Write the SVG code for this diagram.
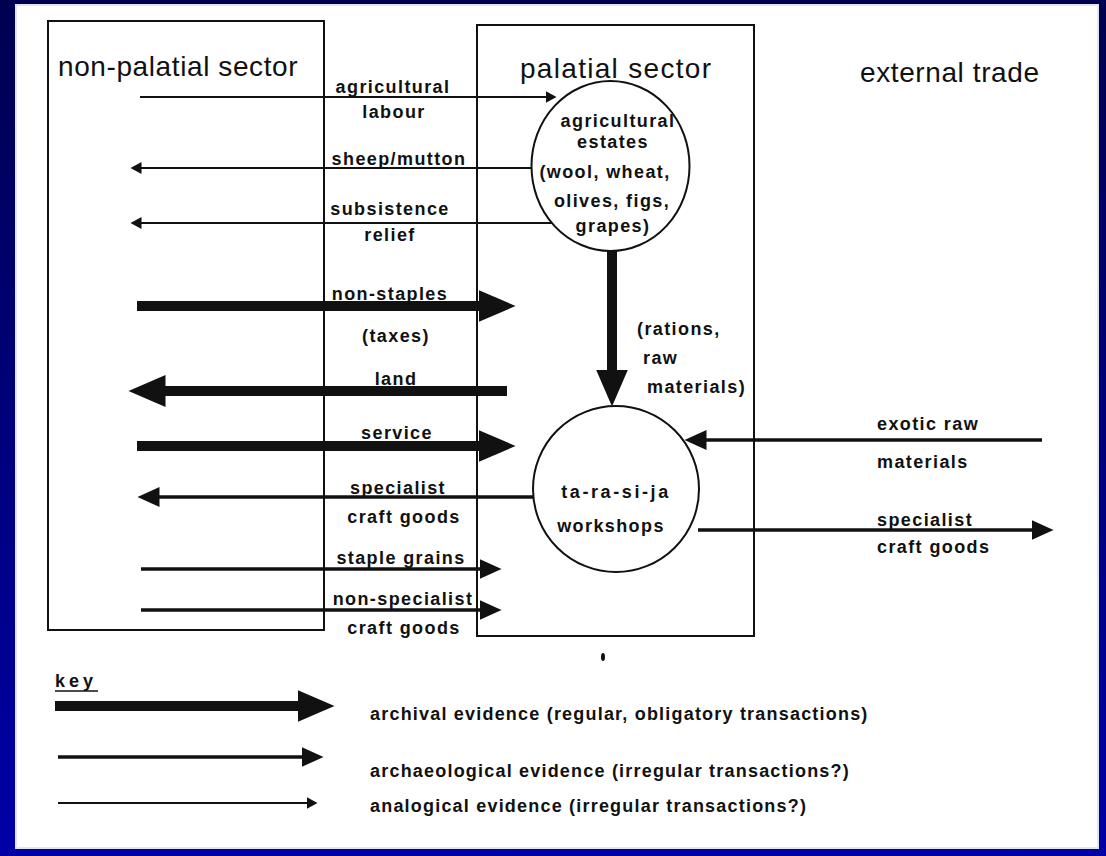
<svg xmlns="http://www.w3.org/2000/svg" width="1106" height="856" viewBox="0 0 1106 856">
<defs>
  <linearGradient id="bg" x1="0" y1="0" x2="0" y2="1">
    <stop offset="0" stop-color="#000050"/>
    <stop offset="1" stop-color="#0000a8"/>
  </linearGradient>
  <marker id="hThin" markerUnits="userSpaceOnUse" markerWidth="12" markerHeight="12" refX="0.5" refY="6" orient="auto">
    <path d="M0,0 L11,6 L0,12 Z" fill="#111"/>
  </marker>
  <marker id="hMed" markerUnits="userSpaceOnUse" markerWidth="23" markerHeight="20" refX="0.5" refY="10" orient="auto">
    <path d="M0,0 L22,10 L0,20 Z" fill="#111"/>
  </marker>
  <marker id="hThick" markerUnits="userSpaceOnUse" markerWidth="38" markerHeight="32" refX="0.5" refY="16" orient="auto">
    <path d="M0,0 L37,16 L0,32 Z" fill="#111"/>
  </marker>
  <style>
    .box { fill: none; stroke: #111; stroke-width: 2; }
    .circ { fill: #fff; stroke: #111; stroke-width: 2; }
    .title { font-family: "Liberation Sans", Arial, sans-serif; font-size: 28px; fill: #111; letter-spacing: 0.6px; }
    .lbl { font-family: "Liberation Sans", Arial, sans-serif; font-size: 18px; font-weight: bold; fill: #111; letter-spacing: 1.4px; }
    .mid { text-anchor: middle; }
    .keyt { font-family: "Liberation Sans", Arial, sans-serif; font-size: 18px; font-weight: bold; fill: #111; letter-spacing: 1.2px; }
    .thin { stroke: #111; stroke-width: 2; fill: none; marker-end: url(#hThin); }
    .med { stroke: #111; stroke-width: 3.5; fill: none; marker-end: url(#hMed); }
    .thick { stroke: #111; stroke-width: 10; fill: none; marker-end: url(#hThick); }
  </style>
</defs>

<rect x="0" y="0" width="1106" height="856" fill="url(#bg)"/>
<rect x="16" y="5" width="1082" height="843" fill="#ffffff" stroke="#e4e4ec" stroke-width="2"/>

<g id="non-palatial-sector">
  <rect class="box" x="48" y="21" width="276" height="609"/>
  <text class="title" x="58" y="76">non-palatial sector</text>
</g>

<g id="palatial-sector">
  <rect class="box" x="477" y="25" width="277" height="611"/>
  <text class="title" x="520" y="78" style="letter-spacing:1.3px">palatial sector</text>
</g>

<g id="external-trade">
  <text class="title" x="860" y="82">external  trade</text>
</g>

<g id="connectors">
  <line class="thin" x1="140" y1="97" x2="546" y2="97"/>
  <line class="thin" x1="532" y1="168" x2="141" y2="168"/>
  <line class="thin" x1="555" y1="223" x2="141" y2="223"/>
  <line class="thick" x1="137" y1="306" x2="479" y2="306"/>
  <line class="thick" x1="507" y1="391" x2="165" y2="391"/>
  <line class="thick" x1="137" y1="446" x2="479" y2="446"/>
  <line class="med" x1="533" y1="497" x2="159" y2="497"/>
  <line class="med" x1="141" y1="569" x2="480" y2="569"/>
  <line class="med" x1="141" y1="610" x2="480" y2="610"/>
  <line class="med" x1="1042" y1="440" x2="706" y2="440"/>
  <line class="med" x1="698" y1="530" x2="1032" y2="530"/>
  <line class="thick" x1="612" y1="251" x2="612" y2="370"/>
</g>

<g id="agricultural-estates">
  <ellipse class="circ" cx="610.5" cy="166" rx="79" ry="85"/>
  <text class="lbl mid" x="618" y="127">agricultural</text>
  <text class="lbl mid" x="613" y="148">estates</text>
  <text class="lbl mid" x="605" y="178">(wool,  wheat,</text>
  <text class="lbl mid" x="612" y="207">olives,  figs,</text>
  <text class="lbl mid" x="613" y="232">grapes)</text>
</g>

<g id="ta-ra-si-ja-workshops">
  <circle class="circ" cx="616" cy="489" r="83"/>
  <text class="lbl mid" x="616" y="498" style="letter-spacing:2.6px">ta-ra-si-ja</text>
  <text class="lbl mid" x="611" y="532">workshops</text>
</g>

<g id="labels">
  <text class="lbl mid" x="393" y="93">agricultural</text>
  <text class="lbl mid" x="394" y="118">labour</text>
  <text class="lbl mid" x="399" y="165">sheep/mutton</text>
  <text class="lbl mid" x="390" y="215">subsistence</text>
  <text class="lbl mid" x="390" y="241">relief</text>
  <text class="lbl mid" x="390" y="300">non-staples</text>
  <text class="lbl mid" x="396" y="342">(taxes)</text>
  <text class="lbl mid" x="396" y="385">land</text>
  <text class="lbl mid" x="397" y="439">service</text>
  <text class="lbl mid" x="398" y="494">specialist</text>
  <text class="lbl mid" x="404" y="523">craft  goods</text>
  <text class="lbl mid" x="401" y="564">staple grains</text>
  <text class="lbl mid" x="403" y="605">non-specialist</text>
  <text class="lbl mid" x="404" y="634">craft  goods</text>
  <text class="lbl" x="637" y="335">(rations,</text>
  <text class="lbl" x="643" y="364">raw</text>
  <text class="lbl" x="647" y="393">materials)</text>
  <text class="lbl" x="877" y="430">exotic  raw</text>
  <text class="lbl" x="877" y="468">materials</text>
  <text class="lbl" x="877" y="526">specialist</text>
  <text class="lbl" x="877" y="553">craft  goods</text>
</g>

<ellipse cx="603" cy="657" rx="2" ry="4" fill="#111"/>

<g id="key">
  <text class="keyt" x="55" y="687" style="letter-spacing:4px">key</text>
  <line x1="55" y1="691" x2="98" y2="691" stroke="#111" stroke-width="1.5"/>
  <line class="thick" x1="55" y1="706" x2="298" y2="706"/>
  <line class="med" x1="58" y1="757" x2="302" y2="757"/>
  <line class="thin" x1="58" y1="803" x2="307" y2="803"/>
  <text class="keyt" x="370" y="720">archival  evidence  (regular,  obligatory  transactions)</text>
  <text class="keyt" x="370" y="777">archaeological  evidence  (irregular  transactions?)</text>
  <text class="keyt" x="370" y="812">analogical  evidence  (irregular  transactions?)</text>
</g>
</svg>
